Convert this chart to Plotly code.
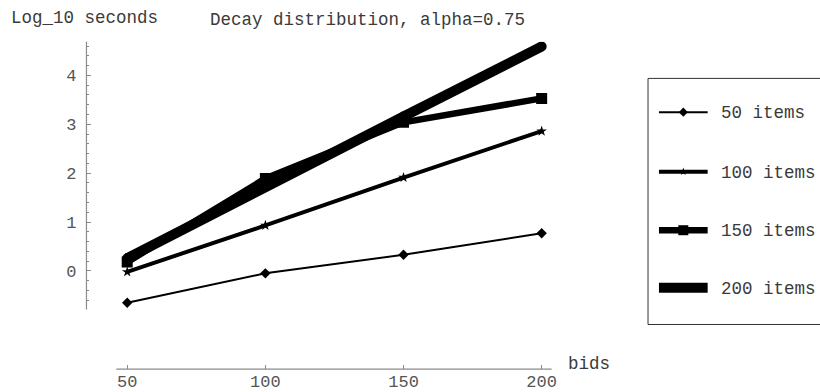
import plotly.graph_objects as go

# Data: log10 running time (seconds) vs number of bids, decay distribution
bids = [50, 100, 150, 200]
series_names = ["50 items", "100 items", "150 items", "200 items"]
items_50 = [-0.65, -0.05, 0.33, 0.77]
items_100 = [-0.02, 0.93, 1.91, 2.86]
items_150 = [0.18, 1.89, 3.04, 3.53]
items_200 = [0.26, 1.73, 3.16, 4.59]
series_values = [items_50, items_100, items_150, items_200]

x_ticks = [50, 100, 150, 200]
y_ticks = [0, 1, 2, 3, 4]
y_minor = [round(v / 10, 1) for v in range(-6, 47, 2) if v % 10 != 0]

FONT = "Liberation Mono, Courier New, monospace"
TXT = "#3a3a3a"
W, H = 820, 392

# plot-area geometry (pixels)
PX_L, PX_R = 87, 555
PX_T, PX_B = 42, 372
X_RANGE = [35.25, 203.6]
Y_RANGE = [-2.01, 4.69]

styles = [
    dict(width=2, symbol="diamond", size=8),
    dict(width=4, symbol="star", size=8),
    dict(width=6.5, symbol="square", size=11),
    dict(width=10, symbol="circle", size=10),
]

fig = go.Figure()

for name, vals, st in zip(series_names, series_values, styles):
    fig.add_trace(go.Scatter(
        x=bids, y=vals, name=name, mode="lines+markers",
        line=dict(color="black", width=st["width"]),
        marker=dict(color="black", symbol=st["symbol"], size=st["size"],
                    line=dict(width=0)),
        xaxis="x", yaxis="y", hoverinfo="skip",
    ))

# legend samples on a pixel-space axis pair covering the whole figure
legend_rows = [113, 173, 232, 290]
legend_marker = [("diamond", 7), ("star", 6), ("square", 10), (None, 0)]
for name, row, st, (sym, msz) in zip(series_names, legend_rows, styles, legend_marker):
    fig.add_trace(go.Scatter(
        x=[663, 712], y=[row, row], mode="lines",
        line=dict(color="black", width=st["width"]),
        xaxis="x2", yaxis="y2", hoverinfo="skip",
    ))
    if sym:
        fig.add_trace(go.Scatter(
            x=[687.5], y=[row], mode="markers",
            marker=dict(color="black", symbol=sym, size=msz, line=dict(width=0)),
            xaxis="x2", yaxis="y2", hoverinfo="skip",
        ))
    fig.add_annotation(x=723, y=row + 1, xref="x2", yref="y2", text=name,
                       showarrow=False, xanchor="left", yanchor="middle",
                       font=dict(family=FONT, size=17.5, color=TXT))

AX_COL = "#8a8a8a"
shapes = [
    # x axis line
    dict(type="line", xref="x2", yref="y2", x0=117, x1=555, y0=372, y1=372,
         line=dict(color=AX_COL, width=1.2)),
    # y axis line
    dict(type="line", xref="x2", yref="y2", x0=87, x1=87, y0=42, y1=312,
         line=dict(color=AX_COL, width=1.2)),
    # legend frame
    dict(type="rect", xref="paper", yref="paper",
         x0=652 / W, x1=840 / W, y0=1 - 327 / H, y1=1 - 79 / H,
         line=dict(color="#333", width=1)),
]

fig.add_annotation(x=370, y=20, xref="x2", yref="y2",
                   text="Decay distribution, alpha=0.75", showarrow=False,
                   xanchor="center", yanchor="middle",
                   font=dict(family=FONT, size=17.5, color=TXT))
fig.add_annotation(x=9, y=18, xref="x2", yref="y2", text="Log_10 seconds",
                   showarrow=False, xanchor="left", yanchor="middle",
                   font=dict(family=FONT, size=17.5, color=TXT))
fig.add_annotation(x=569, y=367, xref="x2", yref="y2", text="bids",
                   showarrow=False, xanchor="left", yanchor="middle",
                   font=dict(family=FONT, size=17.5, color=TXT))

fig.update_layout(
    width=W, height=H, autosize=False,
    margin=dict(l=0, r=0, t=0, b=0),
    paper_bgcolor="white", plot_bgcolor="rgba(0,0,0,0)",
    showlegend=False,
    shapes=shapes,
    xaxis=dict(
        domain=[PX_L / W, PX_R / W], range=X_RANGE, anchor="y",
        tickvals=x_ticks, ticks="inside", ticklen=4, tickcolor=AX_COL,
        showgrid=False, zeroline=False, showline=False,
        tickfont=dict(family=FONT, size=17, color="#555"),
        ticklabelstandoff=0,
    ),
    yaxis=dict(
        domain=[1 - PX_B / H, 1 - PX_T / H], range=Y_RANGE, anchor="x",
        tickvals=y_ticks, ticks="inside", ticklen=5, tickcolor=AX_COL,
        showgrid=False, zeroline=False, showline=False,
        tickfont=dict(family=FONT, size=17, color="#555"),
        ticklabelstandoff=9,
        minor=dict(tickvals=y_minor, ticks="inside", ticklen=3,
                   tickcolor=AX_COL, showgrid=False),
    ),
    xaxis2=dict(domain=[0, 1], range=[0, W], visible=False, anchor="y2"),
    yaxis2=dict(domain=[0, 1], range=[H, 0], visible=False, anchor="x2"),
)

fig.write_html("out.html")
